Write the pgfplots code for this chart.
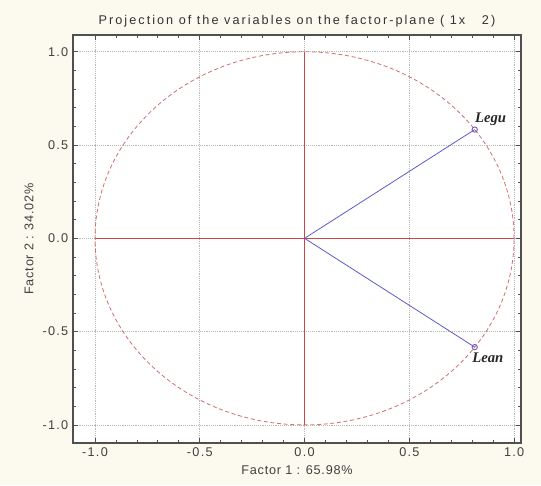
\documentclass[border=0pt]{standalone}
\usepackage{fontspec}
\setmainfont{Liberation Sans}
\newfontfamily\labfont{Liberation Serif}
\usepackage{pgfplots}
\pgfplotsset{compat=1.18}

\definecolor{paper}{HTML}{FCF9EE}
\definecolor{axred}{HTML}{C84848}
\definecolor{circred}{HTML}{D07070}
\definecolor{vecblue}{HTML}{5C5CC8}
\definecolor{markpur}{HTML}{7048B8}
\definecolor{gridgray}{HTML}{B8B8B8}
\definecolor{framegray}{HTML}{505050}

\begin{document}
\begin{tikzpicture}
% page background (1px = 0.75pt)
\fill[paper] (-54.75pt,-31.5pt) rectangle (351pt,332.25pt);
\begin{axis}[
  at={(0,0)}, anchor=south west,
  scale only axis, width=336pt, height=306pt,
  xmin=-1.105, xmax=1.033, ymin=-1.097, ymax=1.09,
  axis background/.style={fill=white},
  xtick={-1,-0.5,0,0.5,1}, ytick={-1,-0.5,0,0.5,1},
  xticklabels={-1.0,-0.5,0.0,0.5,1.0},
  yticklabels={-1.0,-0.5,0.0,0.5,1.0},
  minor tick num=4,
  tick align=inside,
  major tick length=4pt, minor tick length=2.5pt,
  grid=major,
  major grid style={gridgray, densely dotted, line width=0.5pt},
  axis line style={framegray, line width=1.1pt},
  tick style={framegray, line width=0.6pt},
  ticklabel style={font=\addfontfeature{LetterSpace=10}\fontsize{9.5}{11}\selectfont, text=black!75},
  title={Projection of the variables on the factor-plane ( 1x \ \ 2)},
  title style={font=\addfontfeature{LetterSpace=16}\fontsize{9.5}{11}\selectfont, text=black!80, yshift=-4pt},
  xlabel={Factor 1 : 65.98\%},
  ylabel={Factor 2 : 34.02\%},
  label style={font=\addfontfeature{LetterSpace=6}\fontsize{9.5}{11}\selectfont, text=black!75},
  clip=false,
]
% reference axes through the origin
\addplot[axred, line width=0.6pt] coordinates {(-1,0) (1,0)};
\addplot[axred, line width=0.6pt] coordinates {(0,-1) (0,1)};
% unit circle
\draw[circred, densely dashed, line width=0.6pt] (axis cs:0,0) ellipse [x radius=1, y radius=1];
% variable vectors
\addplot[vecblue, line width=0.6pt, mark=o, mark indices={2}, mark size=2pt,
  mark options={solid, draw=markpur}]
  coordinates {(0,0) (0.812,0.583)}
  node[pos=1, anchor=south west, inner sep=1pt, xshift=-1pt, yshift=2pt,
       font=\labfont\bfseries\itshape\fontsize{11}{12}\selectfont, text=black!85] {Legu};
\addplot[vecblue, line width=0.6pt, mark=o, mark indices={2}, mark size=2pt,
  mark options={solid, draw=markpur}]
  coordinates {(0,0) (0.812,-0.583)}
  node[pos=1, anchor=north west, inner sep=1pt, xshift=-3pt, yshift=-3pt,
       font=\labfont\bfseries\itshape\fontsize{11}{12}\selectfont, text=black!85] {Lean};
\end{axis}
\end{tikzpicture}
\end{document}
